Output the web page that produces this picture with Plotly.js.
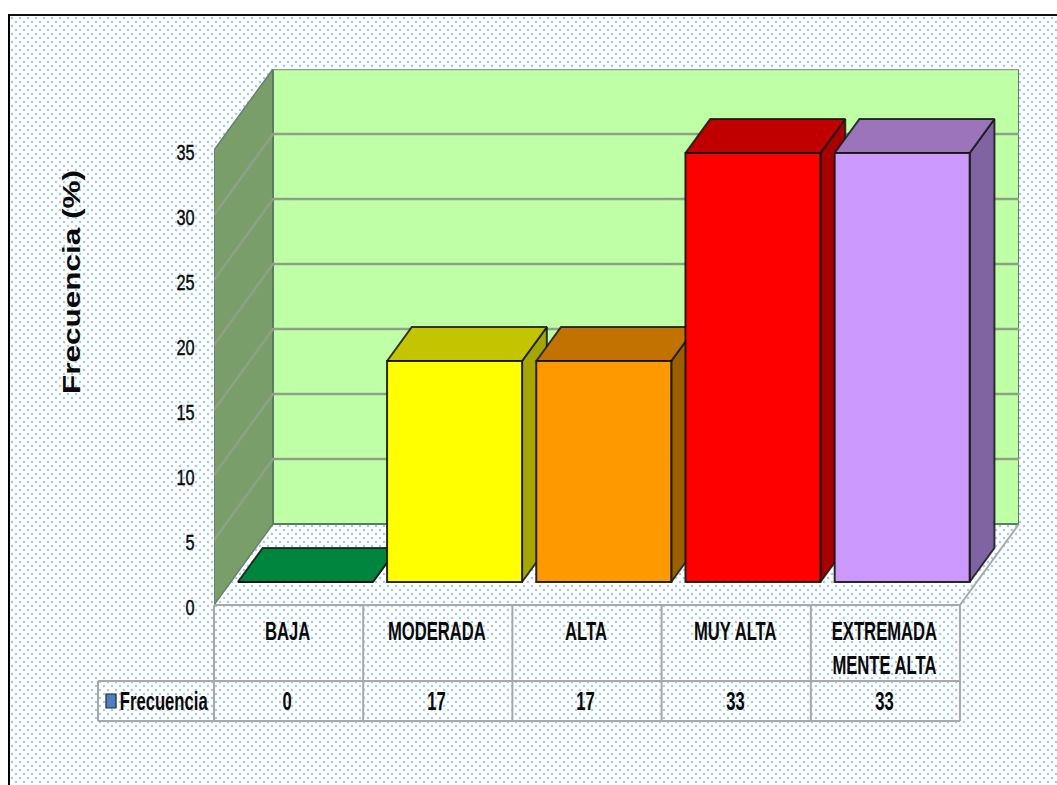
<!DOCTYPE html>
<html><head><meta charset="utf-8">
<script src="https://cdn.plot.ly/plotly-3.0.1.min.js"></script>
<style>
html,body{margin:0;padding:0;background:#fff;overflow:hidden;width:1057px;height:785px}
#frame{position:absolute;left:8px;top:14px;width:1060px;height:780px;box-sizing:border-box;border-left:2px solid #000;border-top:2px solid #111;
background-color:#feffff;background-image:radial-gradient(circle at 2px 2px,#a2c8ec 0.7px,rgba(162,200,236,0) 1.7px),radial-gradient(circle at 2px 2px,#a2c8ec 0.7px,rgba(162,200,236,0) 1.7px);background-size:8px 8px;background-position:0 0,4px 4px}
#chart{position:absolute;left:0;top:0;width:1057px;height:785px}
</style></head><body>
<div id="frame"></div><div id="chart"></div>
<script>
const categories=['BAJA','MODERADA','ALTA','MUY ALTA','EXTREMADA<br>MENTE ALTA'];
const values=[0,17,17,33,33];
const frontColors=['#00A84E','#FFFF00','#FF9900','#FF0000','#CC99FF'];
const topColors=['#00853E','#C4C400','#C27200','#C00000','#9C74BC'];
const sideColors=['#006A32','#A6A600','#9C5F00','#A60000','#8064A2'];
const yTicks=[0,5,10,15,20,25,30,35];
const seriesName='Frecuencia';
const yTitle='Frecuencia (%)';

const L=214,R=1019,T=69,B=605,W=1057,H=785;
const catW=149.2,unitH=13;
const xMax=(R-L)/catW-0.5, yMax=(B-T)/unitH;
const depthX=59/catW, depthY=81/unitH;
const barW=135/catW;
const barStart=0.284, barDepth=0.42;
const px=x=>(x-L)/(R-L), py=y=>(B-y)/(B-T);

function poly(xs,ys,fill,name){
  return {type:'scatter',mode:'lines',x:xs,y:ys,fill:'toself',fillcolor:fill,hoverinfo:'skip',showlegend:false,
    line:{color:'rgba(20,25,20,0.85)',width:2},xaxis:'x',yaxis:'y',name:name||''};
}
const traces=[];
// walls
traces.push(poly([-0.5,-0.5+depthX,-0.5+depthX,-0.5,-0.5],[0,depthY,yMax,35,0],'#7A9E6A'));
traces[0].line={color:'#66806a',width:1.5};
const wallX0=-0.5+depthX;
const backWall=poly([wallX0,xMax,xMax,wallX0,wallX0],[depthY,depthY,yMax,yMax,depthY],'#BFFFA6');
backWall.line={color:'#5c7a66',width:2};
traces.push(backWall);
// grid lines on walls
yTicks.slice(1,-1).forEach(t=>{
  traces.push({type:'scatter',mode:'lines',x:[-0.5,wallX0,xMax],y:[t,t+depthY,t+depthY],line:{color:'#8f9f88',width:2.5},hoverinfo:'skip',showlegend:false});
});
traces.push({type:'scatter',mode:'lines',x:[wallX0,xMax],y:[35+depthY,35+depthY],line:{color:'#8f9f88',width:2.5},hoverinfo:'skip',showlegend:false});
// depth faces of the bars
const b0=barStart*depthY, bx=barStart*depthX, dx=barDepth*depthX, dy=barDepth*depthY;
values.forEach((v,i)=>{
  const l=i-0.5+(1-barW)/2+bx, r=l+barW, y0=b0, y1=b0+v;
  traces.push(poly([r,r+dx,r+dx,r,r],[y0,y0+dy,y1+dy,y1,y0],sideColors[i]));
  traces.push(poly([l,l+dx,r+dx,r,l],[y1,y1+dy,y1+dy,y1,y1],topColors[i]));
});
// front faces
traces.push({type:'bar',x:categories,y:values,base:values.map(()=>b0),width:barW,offset:-barW/2+bx,
  marker:{color:frontColors,line:{color:'rgba(20,20,10,0.9)',width:2}},xaxis:'x2',yaxis:'y2',name:seriesName,hoverinfo:'skip',showlegend:false});

const ink='#0a0a0a';
const tblFont={family:'"Liberation Sans",sans-serif',size:26,color:ink,weight:700};
const line=(x0,y0,x1,y1)=>({type:'line',xref:'paper',yref:'paper',x0:px(x0),y0:py(y0),x1:px(x1),y1:py(y1),line:{color:'#A8A8A8',width:2},layer:'above'});
const shapes=[line(214,605,960,605),line(98,681,960,681),line(98,721,960,721),line(98,681,98,721),line(214,605,214,721),
  line(960,605,1019,524)];
categories.forEach((c,i)=>{const x=214+catW*(i+1);shapes.push(line(x,605,x,721));});
shapes.push({type:'rect',xref:'paper',yref:'paper',x0:px(106),x1:px(116),y0:py(708),y1:py(694),fillcolor:'#4F81BD',line:{color:'#1c2a38',width:1.2},layer:'above'});
const annotations=values.map((v,i)=>({xref:'x',yref:'paper',x:i-0.008,y:py(701),text:String(v),showarrow:false,font:tblFont,xanchor:'center',yanchor:'middle'}));
annotations.push({xref:'paper',yref:'paper',x:px(164),y:py(701),text:seriesName,showarrow:false,font:tblFont,xanchor:'center',yanchor:'middle'});

const layout={width:W,height:H,margin:{l:L,r:W-R,t:T,b:H-B,autoexpand:false},paper_bgcolor:'rgba(0,0,0,0)',plot_bgcolor:'rgba(0,0,0,0)',showlegend:false,
  xaxis:{type:'linear',range:[-0.5,xMax],visible:false,fixedrange:true},
  yaxis:{range:[0,yMax],tickvals:yTicks,ticktext:yTicks.map(String),showgrid:false,zeroline:false,showline:false,ticks:'outside',ticklen:14,tickcolor:'rgba(0,0,0,0)',
    tickfont:{family:'"Liberation Sans",sans-serif',size:22,color:ink,weight:400},
    title:{text:yTitle,standoff:70,font:{family:'"Liberation Sans",sans-serif',size:23,color:ink,weight:700}},automargin:false,fixedrange:true},
  xaxis2:{type:'category',overlaying:'x',anchor:'y2',side:'bottom',range:[-0.5,xMax],categoryorder:'array',categoryarray:categories,
    showgrid:false,zeroline:false,showline:false,ticks:'',ticklabelstandoff:8,tickangle:0,tickfont:tblFont,automargin:false,fixedrange:true},
  yaxis2:{overlaying:'y',anchor:'x2',range:[0,yMax],visible:false,fixedrange:true},
  shapes,annotations,bargap:0};
// the reference's type is tall and condensed: narrow each label about its own centre or right edge
function squeeze(el,sx,right,shiftX,shiftY){
  const b=el.getBBox(), cx=right?b.x+b.width:b.x+b.width/2, tr=el.getAttribute('transform')||'';
  el.setAttribute('transform',tr+' translate('+(cx+(shiftX||0))+','+(shiftY||0)+') scale('+sx+',1) translate('+(-cx)+',0)');
}
Plotly.newPlot('chart',traces,layout,{displayModeBar:false,staticPlot:true}).then(gd=>{
  gd.querySelectorAll('.x2tick text').forEach(e=>squeeze(e,0.64,false,-1,0));
  gd.querySelectorAll('.annotation-text').forEach(e=>squeeze(e,0.64,false));
  gd.querySelectorAll('.ytick text').forEach(e=>{squeeze(e,0.74,true,0,2);e.style.stroke=ink;e.style.strokeWidth='0.45px';});
  const t=gd.querySelector('.ytitle');
  if(t){const x=80,y=282;
    t.setAttribute('x',x);t.setAttribute('y',y);t.setAttribute('transform','rotate(-90,'+x+','+y+')');
    t.setAttribute('textLength',224);t.setAttribute('lengthAdjust','spacingAndGlyphs');}
});
</script></body></html>
